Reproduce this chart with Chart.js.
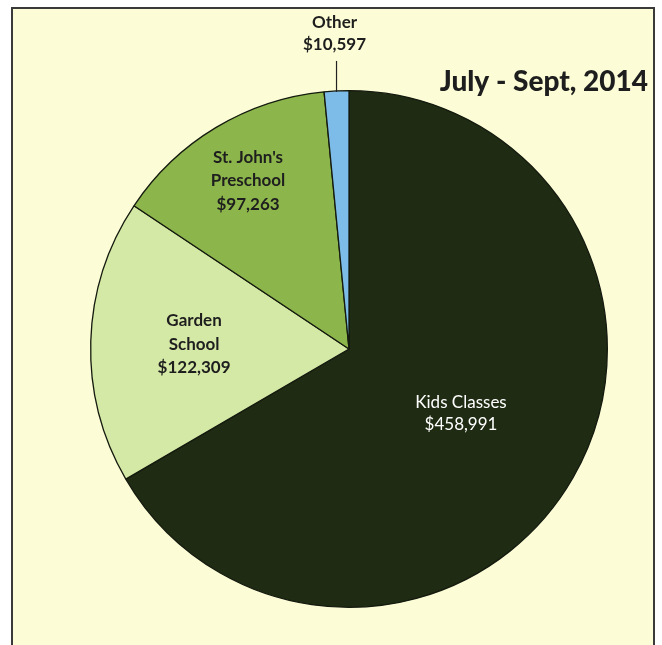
<!DOCTYPE html>
<html lang="en">
<head>
  <meta charset="UTF-8" />
  <title>July - Sept, 2014</title>
  <script src="https://cdn.jsdelivr.net/npm/chart.js"></script>
  <style>
    html, body { margin: 0; padding: 0; background: #fff; }
    body { width: 662px; height: 645px; position: relative; overflow: hidden; }
    .frame {
      position: absolute; left: 11px; top: 7px; width: 640px; height: 650px;
      background: #fcfcd6;
      border: 2px solid #3a3a3a;
    }
    .wrap { position: absolute; left: 0; top: 0; width: 662px; height: 645px; }
  </style>
</head>
<body>
  <div class="frame"></div>
  <div class="wrap"><canvas id="pie" width="662" height="645"></canvas></div>

  <script>
    const categories = ['Kids Classes', 'Garden School', "St. John's Preschool", 'Other'];
    const amounts = [458991, 122309, 97263, 10597];
    const sliceColors = ['#1f2c13', '#d5e9a6', '#8cb64b', '#7dbbe8'];
    // label lines as they appear on the chart
    const labelLines = [
      ['Kids Classes'],
      ['Garden', 'School'],
      ["St. John's", 'Preschool'],
      ['Other']
    ];

    const money = v => '$' + v.toLocaleString('en-US');

    // radius fraction used for each inside label
    const labelRadius = [0.5, 0.6, 0.76, null];

    const labelPlugin = {
      id: 'sliceLabels',
      afterDraw(chart) {
        const ctx = chart.ctx;
        const arcs = chart.getDatasetMeta(0).data;
        ctx.save();
        ctx.textAlign = 'center';
        ctx.textBaseline = 'middle';

        arcs.forEach((arc, i) => {
          const mid = (arc.startAngle + arc.endAngle) / 2;
          const lines = labelLines[i].concat([money(amounts[i])]);
          if (labelRadius[i] != null) {
            const r = arc.outerRadius * labelRadius[i];
            const x = arc.x + Math.cos(mid) * r;
            const y = arc.y + Math.sin(mid) * r;
            const lh = i === 0 ? 22 : 23.5;
            ctx.fillStyle = i === 0 ? '#ffffff' : '#1e1e1e';
            ctx.font = (i === 0 ? '' : 'bold ') + '17px Lato, "Liberation Sans", sans-serif';
            lines.forEach((t, k) => {
              ctx.fillText(t, x, y + (k - (lines.length - 1) / 2) * lh);
            });
          } else {
            // outside label with leader line
            const x0 = arc.x + Math.cos(mid) * arc.outerRadius;
            const y0 = arc.y + Math.sin(mid) * arc.outerRadius;
            ctx.strokeStyle = '#222';
            ctx.lineWidth = 1.2;
            ctx.beginPath();
            ctx.moveTo(x0, y0 + 1);
            ctx.lineTo(x0, y0 - 30);
            ctx.stroke();
            ctx.fillStyle = '#1e1e1e';
            ctx.font = 'bold 17px Lato, "Liberation Sans", sans-serif';
            ctx.fillText(lines[0], x0 - 2, y0 - 68);
            ctx.fillText(lines[1], x0 - 2, y0 - 46);
          }
        });

        // title
        ctx.textAlign = 'right';
        ctx.textBaseline = 'alphabetic';
        ctx.fillStyle = '#1e1e1e';
        ctx.font = '900 28px Lato, "Liberation Sans", sans-serif';
        ctx.fillText('July - Sept, 2014', 648, 91);
        ctx.restore();
      }
    };

    new Chart(document.getElementById('pie'), {
      type: 'pie',
      data: {
        labels: categories,
        datasets: [{
          data: amounts,
          backgroundColor: sliceColors,
          borderColor: '#141a0e',
          borderWidth: 1.3
        }]
      },
      options: {
        responsive: false,
        animation: false,
        layout: { padding: { left: 90, right: 54, top: 90, bottom: 37 } },
        plugins: {
          legend: { display: false },
          tooltip: { enabled: false }
        }
      },
      plugins: [labelPlugin]
    });
  </script>
</body>
</html>
